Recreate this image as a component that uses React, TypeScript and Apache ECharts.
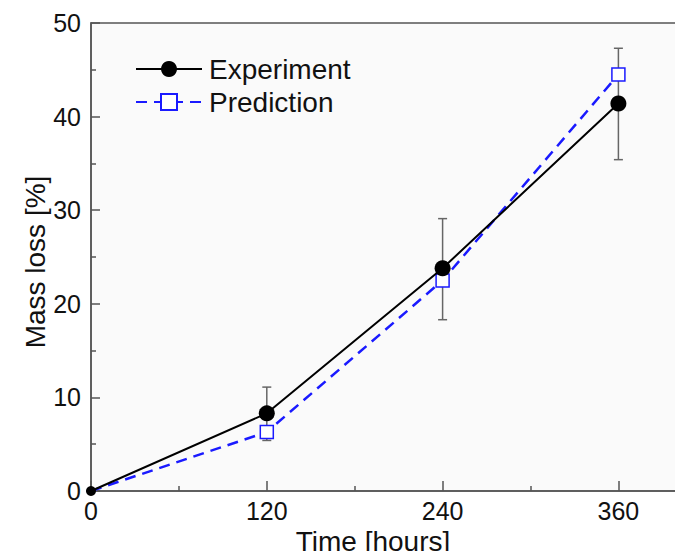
import React, { useEffect, useRef } from "react";
import * as echarts from "echarts";

const timeHours = [0, 120, 240, 360];
const experiment = [0, 8.3, 23.8, 41.4];
const prediction = [0, 6.3, 22.5, 44.5];
const errTimes = [120, 240, 360];
const errLow = [5.4, 18.3, 35.4];
const errHigh = [11.1, 29.1, 47.3];
const xMajorTicks = [0, 120, 240, 360];
const xMinorTicks = [60, 180, 300];
const seriesNames = ["Experiment", "Prediction"];

const FONT = "Liberation Sans, Arial, sans-serif";

export default function App() {
  const ref = useRef<HTMLDivElement>(null);
  useEffect(() => {
    if (!ref.current) return;
    const chart = echarts.init(ref.current, undefined, { renderer: "svg" });
    const expData = timeHours.map((t, i) =>
      i === 0 ? { value: [t, experiment[i]], symbolSize: 10 } : [t, experiment[i]]
    );
    const predData = timeHours.map((t, i) =>
      i === 0 ? { value: [t, prediction[i]], symbol: "none" } : [t, prediction[i]]
    );
    const errData = errTimes.map((t, i) => [t, errLow[i], errHigh[i]]);
    chart.setOption({
      animation: false,
      backgroundColor: "#ffffff",
      textStyle: { fontFamily: FONT },
      grid: {
        left: 91,
        top: 23,
        right: 6,
        bottom: 68,
        show: true,
        backgroundColor: "#fafafa",
        borderColor: "#555555",
        borderWidth: 1.5,
      },
      legend: {
        data: seriesNames,
        orient: "vertical",
        left: 130,
        top: 50,
        itemWidth: 66,
        itemHeight: 20,
        itemGap: 5,
        textStyle: { fontSize: 28, color: "#111", fontFamily: FONT, padding: [0, 0, 0, 2] },
      },
      xAxis: [
        {
          type: "value",
          min: 0,
          max: 400,
          interval: 120,
          axisLine: { lineStyle: { color: "#555555", width: 1.5 } },
          axisTick: {
            inside: true,
            length: 10,
            customValues: xMajorTicks,
            lineStyle: { color: "#555555", width: 1.5 },
          },
          axisLabel: {
            customValues: xMajorTicks,
            fontSize: 25,
            color: "#111",
            margin: 7,
            fontFamily: FONT,
          },
          splitLine: { show: false },
        },
        {
          type: "value",
          min: 0,
          max: 400,
          position: "bottom",
          gridIndex: 0,
          axisLine: { show: false },
          axisTick: {
            inside: true,
            length: 5,
            customValues: xMinorTicks,
            lineStyle: { color: "#555555", width: 1.5 },
          },
          axisLabel: { show: false },
          splitLine: { show: false },
        },
      ],
      yAxis: {
        type: "value",
        min: 0,
        max: 50,
        interval: 10,
        axisLine: { show: true, lineStyle: { color: "#555555", width: 1.5 } },
        axisTick: { show: true, inside: true, length: 9, lineStyle: { color: "#555555", width: 1.5 } },
        minorTick: { show: true, splitNumber: 2, length: 5, lineStyle: { color: "#555555", width: 1.5 } },
        axisLabel: { fontSize: 25, color: "#111", margin: 10, fontFamily: FONT },
        splitLine: { show: false },
        minorSplitLine: { show: false },
      },
      graphic: [
        {
          type: "text",
          x: 373,
          y: 541,
          style: {
            text: "Time [hours]",
            fontSize: 28,
            fill: "#111",
            fontFamily: FONT,
            align: "center",
            verticalAlign: "middle",
          },
        },
        {
          type: "text",
          x: 35,
          y: 262,
          rotation: Math.PI / 2,
          style: {
            text: "Mass loss [%]",
            fontSize: 28,
            fill: "#111",
            fontFamily: FONT,
            align: "center",
            verticalAlign: "middle",
          },
        },
      ],
      series: [
        {
          type: "custom",
          name: "err",
          z: 1,
          data: errData,
          encode: { x: 0, y: [1, 2] },
          renderItem: (params: any, api: any) => {
            const x = api.value(0);
            const lo = api.coord([x, api.value(1)]);
            const hi = api.coord([x, api.value(2)]);
            const w = 4.5;
            const st = { stroke: "#666666", lineWidth: 1.5 };
            return {
              type: "group",
              children: [
                { type: "line", shape: { x1: lo[0], y1: lo[1], x2: hi[0], y2: hi[1] }, style: st },
                { type: "line", shape: { x1: lo[0] - w, y1: lo[1], x2: lo[0] + w, y2: lo[1] }, style: st },
                { type: "line", shape: { x1: hi[0] - w, y1: hi[1], x2: hi[0] + w, y2: hi[1] }, style: st },
              ],
            };
          },
        },
        {
          type: "line",
          name: "Prediction",
          z: 3,
          data: predData,
          symbol: "rect",
          symbolSize: 13,
          showAllSymbol: true,
          lineStyle: { color: "#1a1aff", width: 2.5, type: [11, 7] },
          itemStyle: { color: "#ffffff", borderColor: "#1a1aff", borderWidth: 1.5 },
        },
        {
          type: "line",
          name: "Experiment",
          z: 4,
          data: expData,
          symbol: "circle",
          symbolSize: 16,
          showAllSymbol: true,
          lineStyle: { color: "#000000", width: 2 },
          itemStyle: { color: "#000000" },
        },
      ],
    });
    return () => chart.dispose();
  }, []);
  return <div ref={ref} style={{ width: 683, height: 559, margin: -8 }} />;
}
